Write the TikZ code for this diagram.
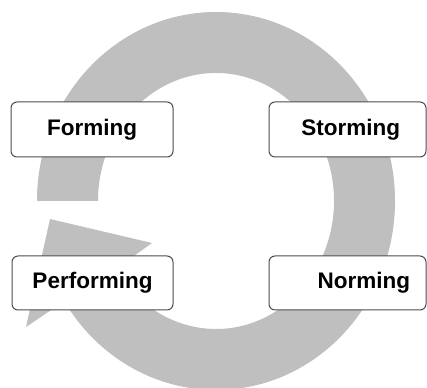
\documentclass[tikz,border=0pt]{standalone}
\usepackage{fontspec}
\setmainfont{Liberation Sans}
\usetikzlibrary{calc}

\definecolor{cyclegray}{RGB}{191,191,191}

\begin{document}
\begin{tikzpicture}[x=1pt,y=1pt]
	\tikzstyle{stage}=[draw=black!70,fill=white,line width=1pt,rounded corners=6pt,minimum height=55pt,inner xsep=0pt,font=\fontsize{22.5}{27}\selectfont\bfseries]
	\useasboundingbox (0,0) rectangle (427,387);
	\coordinate (centre) at (216,186);
	% the big grey cycle arrow
	\fill[cyclegray] ($(centre)+(180:179pt and 189pt)$) arc[start angle=180,end angle=-148,x radius=179pt,y radius=189pt]
		-- (26,60) -- (50,168) -- (152,144)
		-- ($(centre)+(-148:118pt and 128pt)$) arc[start angle=-148,end angle=180,x radius=118pt,y radius=128pt] -- cycle;
	\node (forming) [stage,minimum width=162pt] at (92,257.5) {Forming};
	\node (storming) [stage,minimum width=157pt,text width=105pt,align=right] at (347.5,257.5) {Storming};
	\node (performing) [stage,minimum width=161pt,minimum height=54pt] at (92.5,104) {Performing};
	\node (norming) [stage,minimum width=157pt,minimum height=54pt,text width=125pt,align=right] at (347.5,104) {Norming};
\end{tikzpicture}
\end{document}
